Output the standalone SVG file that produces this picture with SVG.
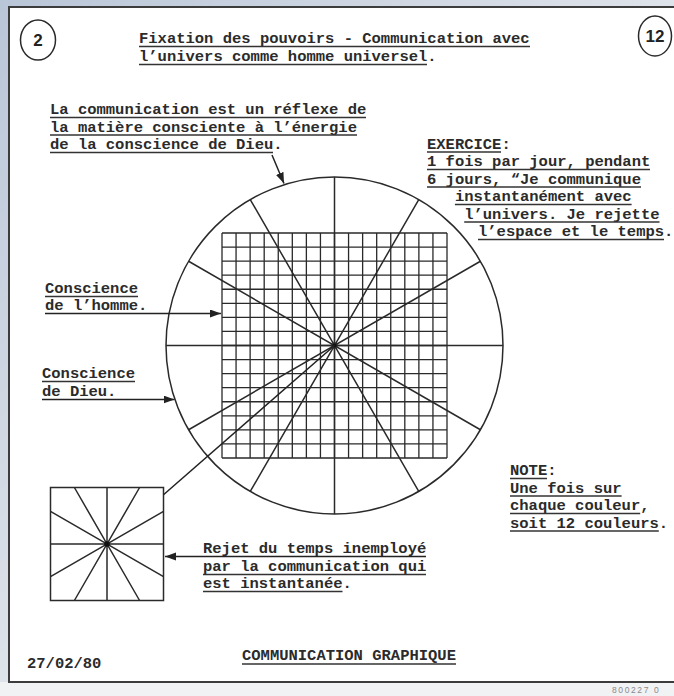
<svg xmlns="http://www.w3.org/2000/svg" width="674" height="696" viewBox="0 0 674 696">
<defs>
<linearGradient id="bg" x1="0" y1="0" x2="1" y2="1">
<stop offset="0" stop-color="#b9c6d8"/>
<stop offset="0.5" stop-color="#dfe3ea"/>
<stop offset="1" stop-color="#eceef1"/>
</linearGradient>
<marker id="ah" markerUnits="userSpaceOnUse" markerWidth="12" markerHeight="9" refX="11" refY="4" orient="auto">
<path d="M0,0 L11,4 L0,8 z" fill="#222"/>
</marker>
<style>
.t{font-family:"Liberation Mono","Courier New",monospace;font-size:15.5px;font-weight:bold;fill:#2b2b2b}
.u{stroke:#333;stroke-width:1.4;fill:none}
.d{stroke:#2a2a2a;stroke-width:1.5;fill:none}
.g{stroke:#2a2a2a;stroke-width:1.3;fill:none}
.c{stroke:#222;stroke-width:1.5;fill:none}
.n{font-family:"Liberation Sans",Arial,sans-serif;font-size:17px;font-weight:bold;fill:#222;text-anchor:middle}
</style>
</defs>
<rect x="0" y="0" width="674" height="696" fill="url(#bg)"/>
<rect x="0" y="682" width="674" height="14" fill="#f1f2f4"/>
<rect x="9" y="7" width="700" height="675" fill="#ffffff" stroke="#3c3c3c" stroke-width="2"/>
<text x="612" y="693" font-family="Liberation Sans,Arial,sans-serif" font-size="8.5" letter-spacing="1.6" fill="#8a8a8a">800227 0</text>

<g id="page-number-left">
<ellipse cx="38" cy="40" rx="17.5" ry="20" class="d"/>
<text x="38" y="46" class="n">2</text>
</g>
<g id="page-number-right">
<ellipse cx="655" cy="36" rx="16.5" ry="20" class="d"/>
<text x="655" y="42" class="n">12</text>
</g>

<g id="title">
<text x="139" y="43" class="t">Fixation des pouvoirs - Communication avec</text>
<text x="139" y="61" class="t">l’univers comme homme universel.</text>
<line x1="139" y1="46.5" x2="530" y2="46.5" class="u"/>
<line x1="139" y1="64.5" x2="427" y2="64.5" class="u"/>
</g>

<g id="label-reflexe">
<text x="50" y="114" class="t">La communication est un réflexe de</text>
<text x="50" y="131.5" class="t">la matière consciente à l’énergie</text>
<text x="50" y="149" class="t">de la conscience de Dieu.</text>
<line x1="50" y1="117.5" x2="366" y2="117.5" class="u"/>
<line x1="50" y1="135" x2="357" y2="135" class="u"/>
<line x1="50" y1="152.5" x2="273" y2="152.5" class="u"/>
</g>

<g id="label-exercice">
<text x="427" y="148.5" class="t">EXERCICE:</text>
<text x="427" y="166" class="t">1 fois par jour, pendant</text>
<text x="427" y="183.5" class="t">6 jours, “Je communique</text>
<text x="454.9" y="201" class="t">instantanément avec</text>
<text x="464.2" y="218.5" class="t">l’univers. Je rejette</text>
<text x="478" y="236" class="t">l’espace et le temps.</text>
<line x1="427" y1="152" x2="501" y2="152" class="u"/>
<line x1="427" y1="169.5" x2="650" y2="169.5" class="u"/>
<line x1="427" y1="187" x2="641" y2="187" class="u"/>
<line x1="454.9" y1="204.5" x2="631.6" y2="204.5" class="u"/>
<line x1="464.2" y1="222" x2="659.5" y2="222" class="u"/>
<line x1="478" y1="239.5" x2="664" y2="239.5" class="u"/>
</g>

<g id="label-homme">
<text x="45" y="293" class="t">Conscience</text>
<text x="45" y="310" class="t">de l’homme.</text>
<line x1="45" y1="296.5" x2="138" y2="296.5" class="u"/>
</g>

<g id="label-dieu">
<text x="42" y="378" class="t">Conscience</text>
<text x="42" y="395.5" class="t">de Dieu.</text>
<line x1="42" y1="381.5" x2="135" y2="381.5" class="u"/>
</g>

<g id="label-note">
<text x="510" y="475" class="t">NOTE:</text>
<text x="510" y="492.5" class="t">Une fois sur</text>
<text x="510" y="510" class="t">chaque couleur,</text>
<text x="510" y="527.5" class="t">soit 12 couleurs.</text>
<line x1="510" y1="478.5" x2="547" y2="478.5" class="u"/>
<line x1="510" y1="496" x2="621.6" y2="496" class="u"/>
<line x1="510" y1="513.5" x2="640.2" y2="513.5" class="u"/>
<line x1="510" y1="531" x2="658.8" y2="531" class="u"/>
</g>

<g id="label-rejet">
<text x="203" y="553" class="t">Rejet du temps inemployé</text>
<text x="203" y="571" class="t">par la communication qui</text>
<text x="203" y="588" class="t">est instantanée.</text>
<line x1="203" y1="574.5" x2="426" y2="574.5" class="u"/>
<line x1="203" y1="591.5" x2="342.5" y2="591.5" class="u"/>
</g>

<g id="footer">
<text x="27" y="668" class="t">27/02/80</text>
<text x="242" y="660" class="t">COMMUNICATION GRAPHIQUE</text>
<line x1="242" y1="664" x2="456" y2="664" class="u"/>
</g>

<g id="big-circle">
<circle cx="334.5" cy="345.5" r="168.5" class="d"/>
<path class="d" d="M166,345.5 H503 M334.5,177 V514 M480.4,261.25 L188.6,429.75 M188.6,261.25 L480.4,429.75 M418.75,199.6 L250.25,491.4 M250.25,199.6 L418.75,491.4"/>
<path class="g" d="M222,233 V458 M236.06,233 V458 M250.13,233 V458 M264.19,233 V458 M278.25,233 V458 M292.31,233 V458 M306.38,233 V458 M320.44,233 V458 M334.5,233 V458 M348.56,233 V458 M362.63,233 V458 M376.69,233 V458 M390.75,233 V458 M404.81,233 V458 M418.88,233 V458 M432.94,233 V458 M447,233 V458 M222,233 H447 M222,247.06 H447 M222,261.13 H447 M222,275.19 H447 M222,289.25 H447 M222,303.31 H447 M222,317.38 H447 M222,331.44 H447 M222,345.5 H447 M222,359.56 H447 M222,373.63 H447 M222,387.69 H447 M222,401.75 H447 M222,415.81 H447 M222,429.88 H447 M222,443.94 H447 M222,458 H447"/>
<circle cx="334.5" cy="345.5" r="2" fill="#111"/>
</g>

<g id="small-square">
<rect x="50.5" y="487.5" width="113" height="113" class="d"/>
<path class="d" d="M107,487.5 V600.5 M50.5,544 H163.5 M74.4,487.5 L139.6,600.5 M139.6,487.5 L74.4,600.5 M50.5,511.4 L163.5,576.6 M50.5,576.6 L163.5,511.4"/>
<circle cx="107" cy="544" r="2.5" fill="#111"/>
</g>

<g id="connectors">
<line x1="163.5" y1="494.7" x2="334.5" y2="345.5" class="c"/>
<line x1="272" y1="155" x2="284" y2="183.5" class="c" marker-end="url(#ah)"/>
<line x1="45" y1="313.5" x2="221" y2="313.5" class="c" marker-end="url(#ah)"/>
<line x1="42" y1="399.5" x2="174.5" y2="399.5" class="c" marker-end="url(#ah)"/>
<line x1="426" y1="556.5" x2="165" y2="556.5" class="c" marker-end="url(#ah)"/>
</g>
</svg>
